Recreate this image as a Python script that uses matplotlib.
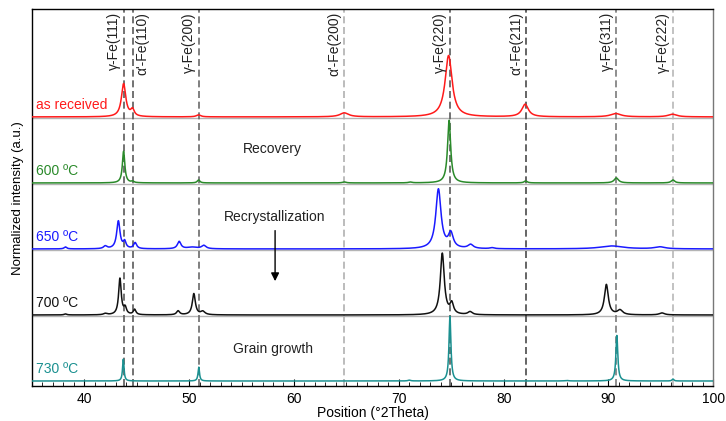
import numpy as np
import matplotlib.pyplot as plt

plt.rcParams['font.family'] = ['Liberation Sans', 'DejaVu Sans']

# reference peak positions (°2Theta) and labels
ref_pos = [43.75, 44.6, 50.9, 64.8, 74.85, 82.1, 90.75, 96.15]
ref_labels = ["γ-Fe(111)", "α'-Fe(110)", "γ-Fe(200)", "α'-Fe(200)",
              "γ-Fe(220)", "α'-Fe(211)", "γ-Fe(311)", "γ-Fe(222)"]
ref_side = ['left', 'right', 'left', 'left', 'left', 'left', 'left', 'left']
ref_colors = ['#5a5a5a', '#5a5a5a', '#6a6a6a', '#b0b0b0',
              '#5a5a5a', '#4a4a4a', '#7a7a7a', '#b8b8b8']

# samples (top to bottom)
samples = ["as received", "600 ºC", "650 ºC", "700 ºC", "730 ºC"]
sample_colors = ['#ff1a1a', '#2a8a2a', '#1a1aff', '#111111', '#1a9090']

# peaks: centre, normalized height, FWHM
peaks_received = [(43.75, 0.50, 0.50), (44.6, 0.10, 0.40), (50.9, 0.03, 0.5),
                  (64.8, 0.06, 1.0), (74.75, 0.93, 0.80), (82.05, 0.19, 0.75),
                  (90.7, 0.05, 1.2), (96.1, 0.04, 1.0)]
peaks_600 = [(43.75, 0.48, 0.28), (44.6, 0.02, 0.3), (50.9, 0.045, 0.3),
             (64.8, 0.015, 0.4), (71.1, 0.012, 0.4), (74.8, 0.95, 0.36),
             (82.1, 0.03, 0.35), (90.75, 0.075, 0.5), (96.15, 0.045, 0.4)]
peaks_650 = [(38.2, 0.03, 0.3), (42.0, 0.04, 0.4), (43.25, 0.42, 0.38),
             (43.85, 0.10, 0.30), (44.85, 0.09, 0.35), (49.05, 0.11, 0.40),
             (50.3, 0.025, 1.2), (51.4, 0.05, 0.50), (73.78, 0.90, 0.60),
             (74.96, 0.22, 0.55), (76.85, 0.06, 0.60), (78.9, 0.015, 0.5),
             (90.3, 0.045, 2.6), (94.9, 0.03, 1.2)]
peaks_700 = [(38.2, 0.015, 0.3), (42.0, 0.02, 0.4), (43.4, 0.55, 0.30),
             (43.9, 0.10, 0.30), (44.8, 0.08, 0.30), (48.95, 0.06, 0.35),
             (50.45, 0.32, 0.35), (51.3, 0.05, 0.50), (74.15, 0.93, 0.45),
             (75.05, 0.16, 0.40), (76.8, 0.045, 0.50), (89.8, 0.46, 0.45),
             (91.1, 0.07, 0.60), (95.1, 0.03, 0.6)]
peaks_730 = [(43.72, 0.33, 0.17), (50.92, 0.21, 0.17), (71.0, 0.012, 0.3),
             (74.88, 0.98, 0.22), (86.0, 0.008, 0.4), (90.8, 0.69, 0.22),
             (96.15, 0.03, 0.20)]
all_peaks = [peaks_received, peaks_600, peaks_650, peaks_700, peaks_730]

two_theta = np.linspace(35, 100, 6500)


def profile(x, peaks):
    y = np.zeros_like(x)
    for c, h, w in peaks:
        g = w / 2.0
        y += h * g**2 / ((x - c)**2 + g**2)
    return y


fig = plt.figure(figsize=(7.26, 4.21), dpi=100)
ax = fig.add_axes([0.0439, 0.0831, 0.9386, 0.8948])

n = len(samples)
for i, (name, col, pk) in enumerate(zip(samples, sample_colors, all_peaks)):
    off = n - 1 - i
    if off > 0:
        ax.axhline(off - 0.012, color='#b4b4b4', lw=1.0, zorder=1)
    ax.plot(two_theta, profile(two_theta, pk) + off, color=col, lw=1.1, zorder=3)
    ax.text(35.4, off + 0.18, name, color=col, fontsize=10, va='center', ha='left')

for pos, lab, side, c in zip(ref_pos, ref_labels, ref_side, ref_colors):
    ax.axvline(pos, color=c, lw=1.2, dashes=(4.2, 2.2), zorder=2)
    if side == 'left':
        ax.text(pos - 0.25, 5.59, lab, rotation=90, ha='right', va='top', fontsize=10,
                color='#222222')
    else:
        ax.text(pos + 0.3, 5.59, lab, rotation=90, ha='left', va='top', fontsize=10,
                color='#222222')

ax.text(57.9, 3.515, "Recovery", ha='center', va='center', fontsize=10, color='#222222')
ax.text(58.2, 2.485, "Recrystallization", ha='center', va='center', fontsize=10,
        color='#222222')
ax.annotate("", xy=(58.2, 1.47), xytext=(58.2, 2.32),
            arrowprops=dict(arrowstyle='-|>', color='black', lw=1.0, mutation_scale=12))
ax.text(58.0, 0.485, "Grain growth", ha='center', va='center', fontsize=10, color='#222222')

ax.set_xlim(35, 100)
ax.set_ylim(-0.076, 5.63)
ax.set_yticks([])
ax.set_xticks(np.arange(40, 101, 10))
ax.set_xticks(np.arange(35, 101, 1), minor=True)
ax.tick_params(axis='x', which='major', direction='in', length=5, labelsize=10, pad=4)
ax.tick_params(axis='x', which='minor', direction='in', length=3)
ax.set_xlabel("Position (°2Theta)", fontsize=10, labelpad=0)
ax.set_ylabel("Normalized intensity (a.u.)", fontsize=9.5, labelpad=6)
for s in ax.spines.values():
    s.set_linewidth(1.0)
ax.spines['right'].set_color('#777777')

fig.savefig("out.png", dpi=100)
